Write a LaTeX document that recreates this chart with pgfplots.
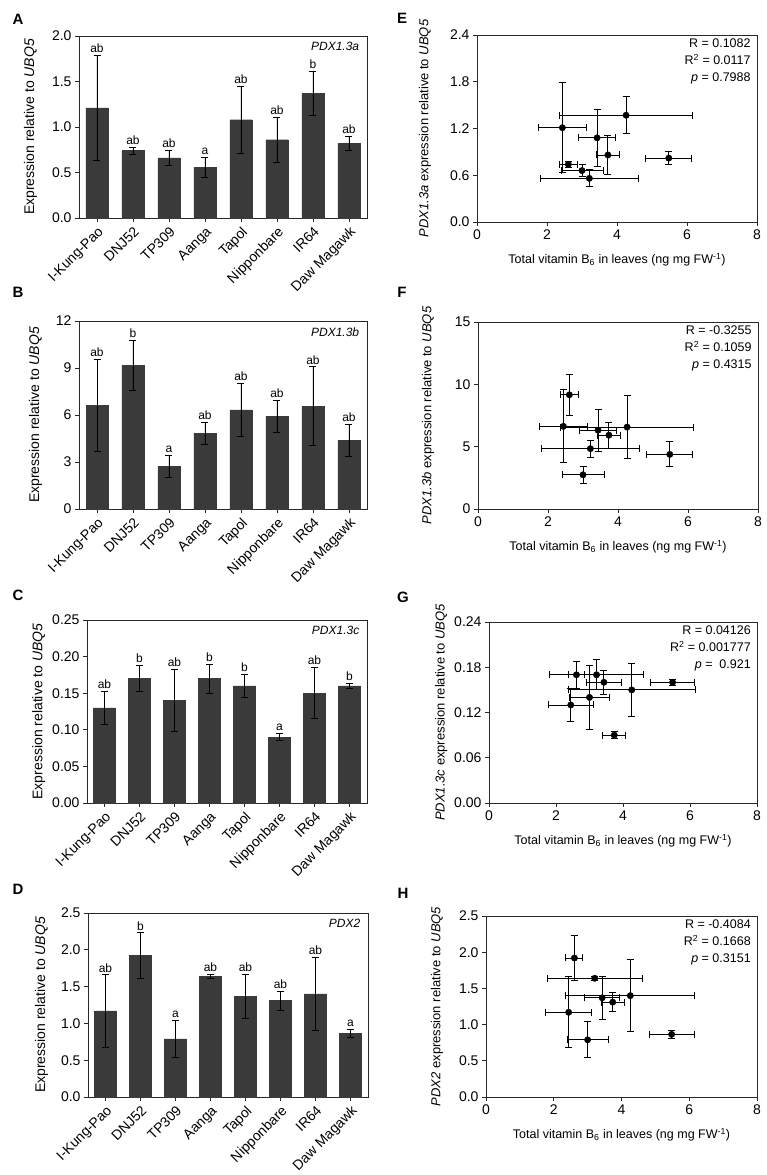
\documentclass[border=0pt]{standalone}
\usepackage{pgfplots}
\pgfplotsset{compat=1.18}
\usepackage{pgfplotstable}
\usepackage{fontspec}
\setmainfont{Liberation Sans}
\definecolor{barc}{RGB}{58,58,58}
\definecolor{axc}{RGB}{40,40,40}

\pgfplotstableread{
i  x    ex   a    ea   b     eb   c     ec    d     ed    la  lb  lc  ld
0  2.44 0.68 1.21 0.58 6.63  2.93 0.130 0.022 1.17  0.49  ab  ab  ab  ab
1  2.61 0.25 0.74 0.04 9.16  1.62 0.170 0.018 1.92  0.31  ab  b   b   b
2  3.00 0.60 0.66 0.08 2.74  0.70 0.140 0.042 0.79  0.25  ab  a   ab  a
3  3.21 1.41 0.56 0.11 4.84  0.69 0.170 0.020 1.64  0.03  a   ab  b   ab
4  3.43 0.52 1.08 0.37 6.32  1.69 0.160 0.016 1.37  0.30  ab  ab  b   ab
5  3.74 0.34 0.86 0.25 5.92  1.03 0.090 0.005 1.31  0.13  ab  ab  a   ab
6  4.26 1.90 1.37 0.24 6.57  2.50 0.150 0.035 1.40  0.50  b   ab  ab  ab
7  5.48 0.66 0.82 0.08 4.38  1.00 0.160 0.004 0.865 0.055 ab  ab  b   a
}\data

\pgfplotsset{
  /pgf/number format/assume math mode=true,
  common/.style={
    scale only axis, anchor=south west, clip=false,
    tick align=outside, tick pos=left, major tick length=4pt,
    axis line style={axc, line width=0.8pt},
    every tick/.style={axc, line width=0.8pt},
    ymin=0,
  },
  barax/.style={
    common,
    xmin=-0.5, xmax=7.5,
    xtick={0,...,7},
    xticklabels={I-Kung-Pao,DNJ52,TP309,Aanga,Tapol,Nipponbare,IR64,Daw Magawk},
    xticklabel style={rotate=45, anchor=north east, inner sep=1pt, font=\fontsize{14}{15}\selectfont},
    xticklabel shift=2pt,
    yticklabel style={font=\fontsize{14}{14}\selectfont},
    ylabel={Expression relative to \textit{UBQ5}},
    ylabel style={font=\fontsize{14}{14}\selectfont},
  },
  scax/.style={
    common,
    xmin=0, xmax=8, xtick={0,2,4,6,8},
    ticklabel style={font=\fontsize{14}{14}\selectfont},
    xlabel={Total vitamin B\textsubscript{6} in leaves (ng mg FW\textsuperscript{-1})},
    xlabel style={font=\fontsize{12.5}{13}\selectfont},
    xlabel shift=7pt,
    ylabel style={font=\fontsize{13}{13}\selectfont},
  },
  barplot/.style={ybar, bar width=22pt, fill=barc, draw=barc,
    error bars/.cd, y dir=both, y explicit,
    error bar style={black, line width=0.8pt},
    error mark options={rotate=90, black, line width=0.8pt, mark size=3.5pt}},
  letters/.style={only marks, mark=none, nodes near coords, point meta=explicit symbolic,
    nodes near coords style={anchor=south, inner sep=1pt, yshift=1.5pt, font=\fontsize{12}{12}\selectfont}},
  scplot/.style={only marks, mark=*, mark size=3.2pt, black,
    error bars/.cd, x dir=both, x explicit, y dir=both, y explicit,
    error bar style={black, line width=0.9pt},
    error mark options={rotate=90, black, line width=0.9pt, mark size=3.5pt}},
}
\newcommand{\gene}[1]{\node[anchor=north east, font=\fontsize{12}{12}\selectfont\itshape] at (rel axis cs:0.985,0.985) {#1};}
\newcommand{\stat}[3]{\node[anchor=north east, align=right, font=\fontsize{12.5}{17}\selectfont, inner sep=2pt] at (rel axis cs:0.985,0.99) {R = #1\\R\textsuperscript{2} = #2\\\textit{p} = #3};}
\newcommand{\plabel}[3]{\node[font=\fontsize{15}{15}\selectfont\bfseries] at (#1pt,#2pt) {#3};}

\begin{document}
\begin{tikzpicture}
\path[use as bounding box] (0,0) rectangle (767pt,1175pt);

% A
\begin{axis}[barax, at={(79pt,957pt)}, width=288pt, height=182pt, ymax=2.0, ytick={0,0.5,1.0,1.5,2.0},
  yticklabel style={/pgf/number format/.cd, fixed, fixed zerofill, precision=1}, ylabel shift=8pt]
\addplot[barplot] table[x=i, y=a, y error=ea]{\data};
\addplot[letters] table[x=i, y expr=\thisrow{a}+\thisrow{ea}, meta=la]{\data};
\gene{PDX1.3a}
\end{axis}

% B
\begin{axis}[barax, at={(79pt,666pt)}, width=288pt, height=188pt, ymax=12, ytick={0,3,6,9,12}, ylabel shift=7pt]
\addplot[barplot] table[x=i, y=b, y error=eb]{\data};
\addplot[letters] table[x=i, y expr=\thisrow{b}+\thisrow{eb}, meta=lb]{\data};
\gene{PDX1.3b}
\end{axis}

% C
\begin{axis}[barax, at={(87pt,372pt)}, width=280pt, height=183pt, ymax=0.25, ytick={0,0.05,0.10,0.15,0.20,0.25},
  yticklabel style={/pgf/number format/.cd, fixed, fixed zerofill, precision=2}, ylabel shift=0pt]
\addplot[barplot] table[x=i, y=c, y error=ec]{\data};
\addplot[letters] table[x=i, y expr=\thisrow{c}+\thisrow{ec}, meta=lc]{\data};
\gene{PDX1.3c}
\end{axis}

% D
\begin{axis}[barax, at={(88pt,78pt)}, width=280pt, height=184pt, ymax=2.5, ytick={0,0.5,1.0,1.5,2.0,2.5},
  yticklabel style={/pgf/number format/.cd, fixed, fixed zerofill, precision=1}, ylabel shift=6pt]
\addplot[barplot] table[x=i, y=d, y error=ed]{\data};
\addplot[letters] table[x=i, y expr=\thisrow{d}+\thisrow{ed}, meta=ld]{\data};
\gene{PDX2}
\end{axis}

% E
\begin{axis}[scax, at={(477pt,953pt)}, width=280pt, height=187pt, ymax=2.4, ytick={0,0.6,1.2,1.8,2.4},
  yticklabel style={/pgf/number format/.cd, fixed, fixed zerofill, precision=1},
  ylabel={\textit{PDX1.3a} expression relative to \textit{UBQ5}}, ylabel shift=12pt]
\addplot[scplot] table[x=x, y=a, x error=ex, y error=ea]{\data};
\stat{0.1082}{0.0117}{0.7988}
\end{axis}

% F
\begin{axis}[scax, at={(478pt,666pt)}, width=280pt, height=187pt, ymax=15, ytick={0,5,10,15},
  ylabel={\textit{PDX1.3b} expression relative to \textit{UBQ5}}, ylabel shift=14pt]
\addplot[scplot] table[x=x, y=b, x error=ex, y error=eb]{\data};
\stat{-0.3255}{0.1059}{0.4315}
\end{axis}

% G
\begin{axis}[scax, at={(489pt,372pt)}, width=268pt, height=181pt, ymax=0.24, ytick={0,0.06,0.12,0.18,0.24},
  yticklabel style={/pgf/number format/.cd, fixed, fixed zerofill, precision=2},
  ylabel={\textit{PDX1.3c} expression relative to \textit{UBQ5}}, ylabel shift=0pt]
\addplot[scplot] table[x=x, y=c, x error=ex, y error=ec]{\data};
\stat{0.04126}{0.001777}{\ 0.921}
\end{axis}

% H
\begin{axis}[scax, at={(486pt,78pt)}, width=271pt, height=181pt, ymax=2.5, ytick={0,0.5,1.0,1.5,2.0,2.5},
  yticklabel style={/pgf/number format/.cd, fixed, fixed zerofill, precision=1},
  ylabel={\textit{PDX2} expression relative to \textit{UBQ5}}, ylabel shift=9pt]
\addplot[scplot] table[x=x, y=d, x error=ex, y error=ed]{\data};
\stat{-0.4084}{0.1668}{0.3151}
\end{axis}

\plabel{18}{1156}{A}
\plabel{18}{883}{B}
\plabel{18}{580}{C}
\plabel{18}{286}{D}
\plabel{402}{1157}{E}
\plabel{402}{883}{F}
\plabel{403}{578}{G}
\plabel{403}{282}{H}
\end{tikzpicture}
\end{document}
